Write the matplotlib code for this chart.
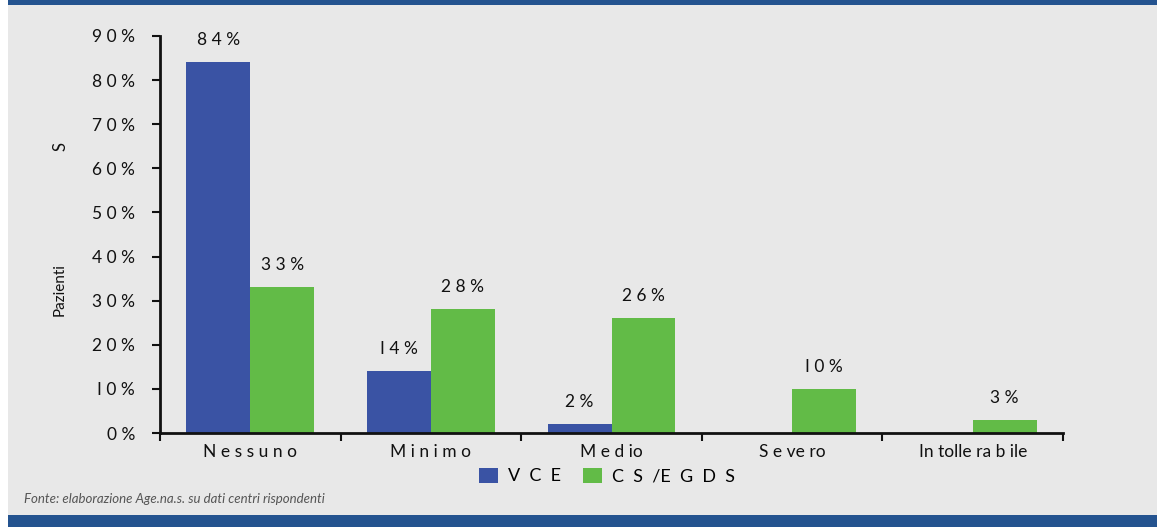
import numpy as np
import matplotlib
matplotlib.use("Agg")
import matplotlib.pyplot as plt
import matplotlib.patches as mpatches

plt.rcParams['font.family'] = ['Lato', 'DejaVu Sans']

# dati: livello di dolore percepito
categorie = ["N e s s u n o", "M i n i m o", "M e d io", "S e ve ro", "In tolle ra b ile"]
serie_nomi = ["V  C  E", "C  S  /E  G  D  S"]
vce = [84, 14, 2, 0, 0]
cs_egds = [33, 28, 26, 10, 3]
yticks_lbl = ["0 %", "I 0 %", "2 0 %", "3 0 %", "4 0 %", "5 0 %", "6 0 %", "7 0 %", "8 0 %", "9 0 %"]

BG = "#E8E8E8"
BLU = "#3A53A4"
VERDE = "#62BB47"
FASCIA = "#24538F"
TESTO = "#111111"

W, H = 1157, 527
fig = plt.figure(figsize=(W / 100, H / 100), dpi=100, facecolor="white")

# sfondo grigio e fasce blu sopra/sotto
fig.add_artist(mpatches.Rectangle((8 / W, 0), 1 - 8 / W, 1, transform=fig.transFigure,
                                  facecolor=BG, edgecolor="none", zorder=-10))
fig.add_artist(mpatches.Rectangle((8 / W, 1 - 5 / H), 1, 5 / H, transform=fig.transFigure,
                                  facecolor=FASCIA, edgecolor="none", zorder=-9))
fig.add_artist(mpatches.Rectangle((8 / W, 0), 1, 12 / H, transform=fig.transFigure,
                                  facecolor=FASCIA, edgecolor="none", zorder=-9))

ax = fig.add_axes([160 / W, 94 / H, (1063 - 160) / W, (433 - 36) / H])
ax.set_facecolor("none")

x = np.arange(len(categorie))
bw = 0.354
b1 = ax.bar(x - bw / 2, vce, width=bw, color=BLU, label=serie_nomi[0])
b2 = ax.bar(x + bw / 2, cs_egds, width=bw, color=VERDE, label=serie_nomi[1])

def etichetta(v):
    s = " ".join(list(f"{v}%"))
    return s.replace("1", "I")

for bars, vals in [(b1, vce), (b2, cs_egds)]:
    for b, v in zip(bars, vals):
        if v == 0:
            continue
        ax.text(b.get_x() + b.get_width() / 2, v + 5.0, etichetta(v),
                ha="center", va="center", fontsize=12.5, color=TESTO)

ax.set_xlim(-0.5, len(categorie) - 0.5)
ax.set_ylim(0, 90)
ax.set_yticks(np.arange(0, 91, 10))
ax.set_yticklabels(yticks_lbl, fontsize=12.5, color=TESTO)
ax.set_xticks(np.arange(-0.5, len(categorie), 1))
ax.set_xticklabels([])
ax.set_xticks(x, minor=True)
ax.set_xticklabels(categorie, minor=True, fontsize=12.5, color=TESTO)
ax.tick_params(axis="x", which="minor", length=0, pad=8)
ax.tick_params(axis="x", which="major", length=6, width=1.5, direction="out", color=TESTO)
ax.tick_params(axis="y", length=6, width=1.5, direction="out", pad=12, color=TESTO)

for s in ["top", "right"]:
    ax.spines[s].set_visible(False)
for s in ["left", "bottom"]:
    ax.spines[s].set_linewidth(2)
    ax.spines[s].set_color(TESTO)

# titolo asse y
fig.text(60 / W, 1 - 290 / H, "Pazienti", rotation=90, ha="center", va="center", fontsize=11, color=TESTO)
fig.text(60 / W, 1 - 146 / H, "S", rotation=90, ha="center", va="center", fontsize=12, color=TESTO)

fig.legend(handles=[b1, b2], labels=serie_nomi, loc="center", bbox_to_anchor=(607 / W, 1 - 476 / H),
           ncol=2, frameon=False, fontsize=13, handlelength=1.05, handleheight=0.9,
           handletextpad=0.55, columnspacing=1.2, borderpad=0)

fig.text(24 / W, 1 - 499 / H, "Fonte: elaborazione Age.na.s. su dati centri rispondenti",
         ha="left", va="center", fontsize=9.5, style="italic", color="#555555")

fig.savefig("out.png", dpi=100, facecolor="white")
